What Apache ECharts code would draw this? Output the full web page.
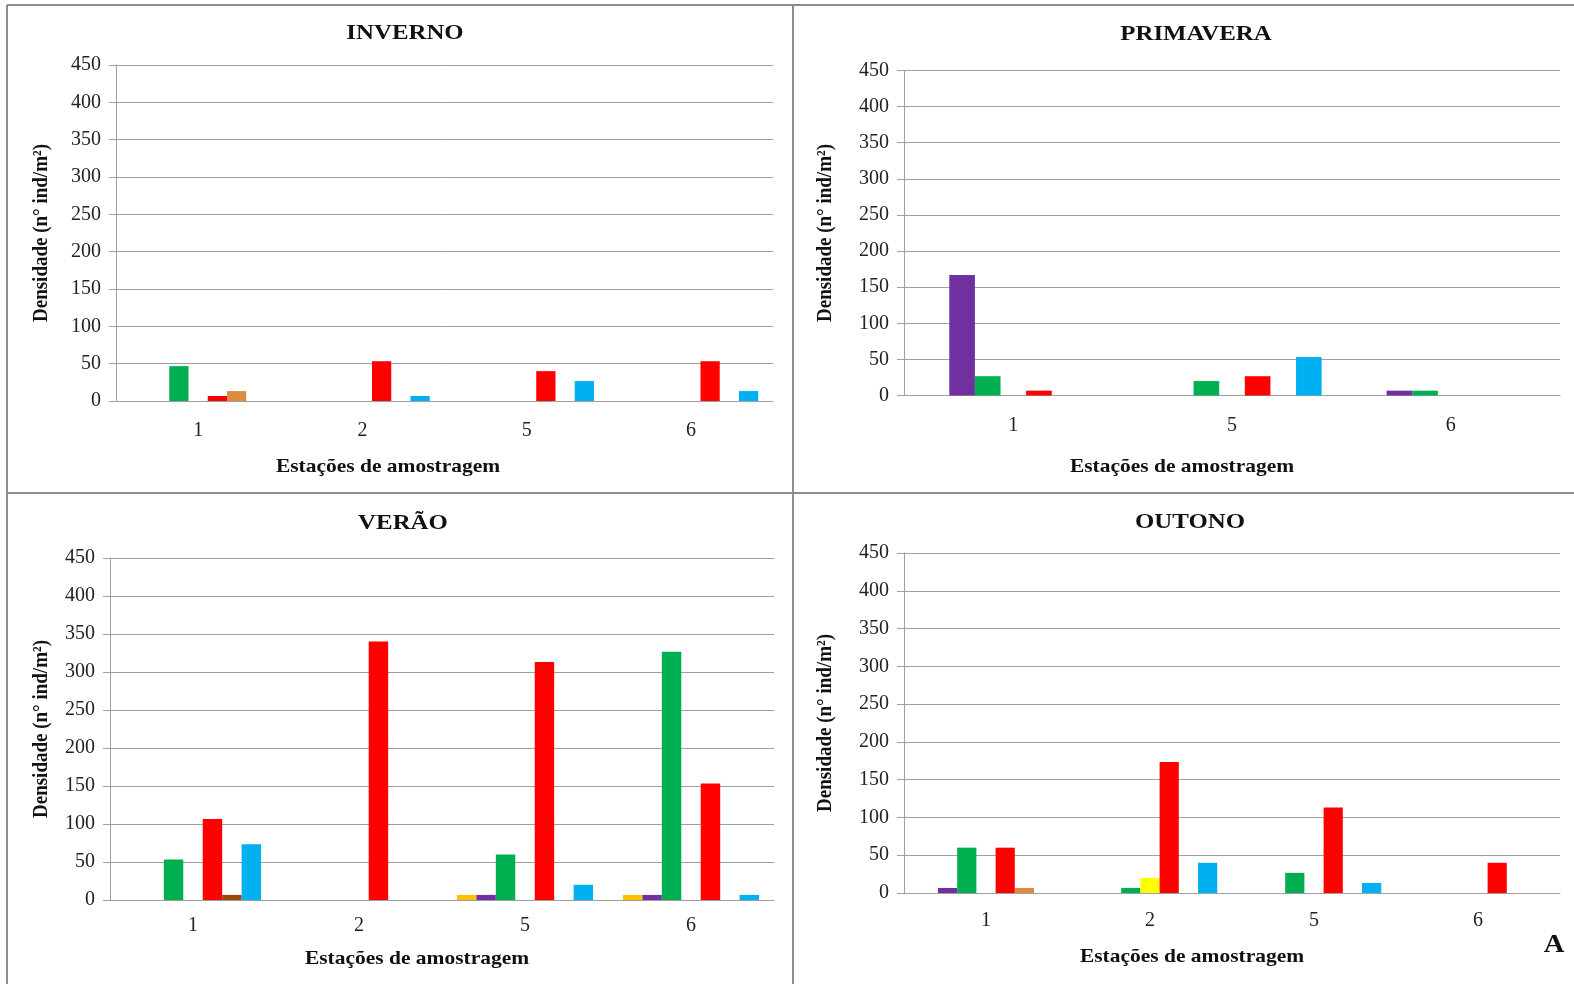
<!DOCTYPE html>
<html>
<head>
<meta charset="utf-8">
<style>
  html, body { margin: 0; padding: 0; background: #ffffff; }
  #chart { width: 1574px; height: 984px; }
</style>
<script src="https://cdn.jsdelivr.net/npm/echarts@6/dist/echarts.min.js"></script>
</head>
<body>
<div id="chart"></div>
<script>
// Sampling stations shown on each seasonal panel
const stationsInverno = ['1', '2', '5', '6'];
const stationsPrimavera = ['1', '5', '6'];
const stationsVerao = ['1', '2', '5', '6'];
const stationsOutono = ['1', '2', '5', '6'];

// Density (nº ind/m²) per group slot, one array per slot, per season
// slot order: gold, purple, green, yellow, red, orange/brown, blue
const inverno = [
  [null, null, null, null],
  [null, null, null, null],
  [46.7, null, null, null],
  [null, null, null, null],
  [6.7, 53.3, 40, 53.3],
  [13.3, null, null, null],
  [null, 6.7, 26.7, 13.3]
];
const primavera = [
  [null, null, null],
  [166.7, null, 6.7],
  [26.7, 20, 6.7],
  [null, null, null],
  [6.7, 26.7, null],
  [null, null, null],
  [null, 53.3, null]
];
const verao = [
  [null, null, 6.7, 6.7],
  [null, null, 6.7, 6.7],
  [53.3, null, 60, 326.7],
  [null, null, null, null],
  [106.7, 340, 313.3, 153.3],
  [6.7, null, null, null],
  [73.3, null, 20, 6.7]
];
const outono = [
  [null, null, null, null],
  [6.7, null, null, null],
  [60, 6.7, 26.7, null],
  [null, 20, null, null],
  [60, 173.3, 113.3, 40],
  [6.7, null, null, null],
  [null, 40, 13.3, null]
];

const yTicks = { min: 0, max: 450, interval: 50 };

const colorsDefault = ['#FFC000', '#7030A0', '#00B050', '#FFFF00', '#FF0000', '#DE8A42', '#00B0F0'];
const colorsVerao = ['#FFC000', '#7030A0', '#00B050', '#FFFF00', '#FF0000', '#974706', '#00B0F0'];

const serif = '"Liberation Serif", "Times New Roman", serif';
const gridGray = '#a0a0a0';
const textWide = 1.13;

const panels = [
  { title: 'INVERNO', cats: stationsInverno, data: inverno, colors: colorsDefault,
    grid: { left: 116, top: 65, width: 657, height: 336 }, labelMargin: 20,
    titlePos: [405, 33], xName: [388, 467], yName: [42, 233] },
  { title: 'PRIMAVERA', cats: stationsPrimavera, data: primavera, colors: colorsDefault,
    grid: { left: 904, top: 70.5, width: 656, height: 325 }, labelMargin: 20,
    titlePos: [1196, 34], xName: [1182, 467], yName: [826, 233] },
  { title: 'VERÃO', cats: stationsVerao, data: verao, colors: colorsVerao,
    grid: { left: 110, top: 558, width: 664, height: 342 }, labelMargin: 16,
    titlePos: [403, 523], xName: [417, 959], yName: [42, 729] },
  { title: 'OUTONO', cats: stationsOutono, data: outono, colors: colorsDefault,
    grid: { left: 904, top: 553, width: 656, height: 340 }, labelMargin: 18,
    titlePos: [1190, 522], xName: [1192, 957], yName: [826, 723] }
];

const grids = [], xAxes = [], yAxes = [], series = [], graphics = [];

panels.forEach((p, i) => {
  grids.push(Object.assign({ containLabel: false }, p.grid));
  xAxes.push({
    type: 'category', gridIndex: i, data: p.cats,
    axisLine: { show: true, lineStyle: { color: gridGray, width: 1 } },
    axisTick: { show: false },
    axisLabel: { fontFamily: serif, fontSize: 20, color: '#222', margin: p.labelMargin }
  });
  yAxes.push({
    type: 'value', gridIndex: i, min: yTicks.min, max: yTicks.max, interval: yTicks.interval,
    axisLine: { show: true, lineStyle: { color: gridGray, width: 1 } },
    axisTick: { show: true, length: 7, lineStyle: { color: gridGray } },
    splitLine: { show: true, lineStyle: { color: gridGray, width: 1 } },
    axisLabel: { fontFamily: serif, fontSize: 20, color: '#222', margin: 15 }
  });
  p.data.forEach((vals, s) => {
    series.push({
      type: 'bar', xAxisIndex: i, yAxisIndex: i, data: vals,
      barGap: '0%', barCategoryGap: '18%',
      itemStyle: { color: p.colors[s] },
      silent: true, animation: false
    });
  });
  graphics.push({
    type: 'text', x: p.titlePos[0], y: p.titlePos[1], scaleX: textWide,
    style: { text: p.title, font: 'bold 22px ' + serif, fill: '#111', textAlign: 'center', textVerticalAlign: 'middle' }
  });
  graphics.push({
    type: 'text', x: p.xName[0], y: p.xName[1], scaleX: textWide,
    style: { text: 'Estações de amostragem', font: 'bold 19px ' + serif, fill: '#111', textAlign: 'center', textVerticalAlign: 'middle' }
  });
  graphics.push({
    type: 'text', x: p.yName[0], y: p.yName[1], rotation: Math.PI / 2, scaleY: 1.1,
    style: { text: 'Densidade (n° ind/m²)', font: 'bold 19px ' + serif, fill: '#111', textAlign: 'center', textVerticalAlign: 'middle' }
  });
});

// panel frames
const frame = { stroke: '#8c8c8c', lineWidth: 2 };
graphics.push(
  { type: 'line', shape: { x1: 7, y1: 5, x2: 1574, y2: 5 }, style: frame },
  { type: 'line', shape: { x1: 7, y1: 5, x2: 7, y2: 984 }, style: frame },
  { type: 'line', shape: { x1: 793, y1: 5, x2: 793, y2: 984 }, style: frame },
  { type: 'line', shape: { x1: 7, y1: 493, x2: 1574, y2: 493 }, style: frame },
  { type: 'text', x: 1554, y: 945, scaleX: 1.1,
    style: { text: 'A', font: 'bold 26px ' + serif, fill: '#111', textAlign: 'center', textVerticalAlign: 'middle' } }
);

const chart = echarts.init(document.getElementById('chart'), null, { renderer: 'canvas' });
chart.setOption({
  animation: false,
  backgroundColor: '#ffffff',
  grid: grids,
  xAxis: xAxes,
  yAxis: yAxes,
  series: series,
  graphic: graphics
});
</script>
</body>
</html>
